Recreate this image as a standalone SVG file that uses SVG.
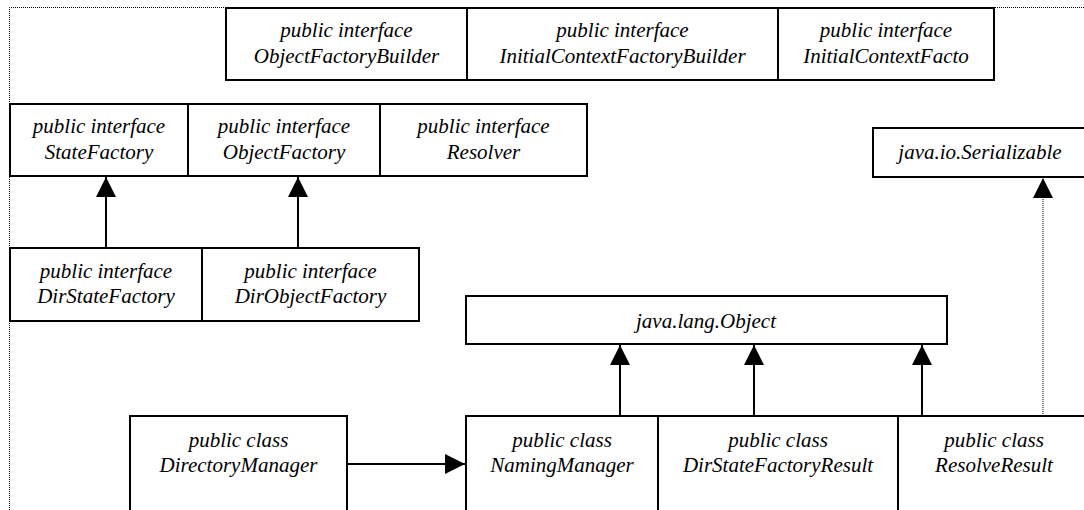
<svg xmlns="http://www.w3.org/2000/svg" width="1084" height="510" viewBox="0 0 1084 510">
  <style>
    .box { fill: #fff; stroke: #000; stroke-width: 2; }
    .lbl { font-family: "Liberation Serif", "Times New Roman", serif; font-style: italic; font-size: 21px; fill: #000; text-anchor: middle; }
    .edge { fill: none; stroke: #000; stroke-width: 2; }
    .dots { fill: none; stroke: #000; stroke-width: 1; stroke-dasharray: 1 1; }
  </style>
  <defs>
    <marker id="head" markerUnits="userSpaceOnUse" markerWidth="20" markerHeight="20" viewBox="0 0 20 20" refX="20" refY="10" orient="auto">
      <path d="M0,0 L20,10 L0,20 Z" fill="#000"/>
    </marker>
  </defs>
  <rect width="1084" height="510" fill="#fff"/>

  <!-- package frame (dotted) -->
  <g id="frame">
    <path class="dots" d="M9.5,510 L9.5,7.5 L1084,7.5"/>
  </g>

  <!-- top row -->
  <g id="ObjectFactoryBuilder">
    <rect class="box" x="226" y="8" width="241" height="72"/>
    <text class="lbl" x="346.5" y="37">public interface</text>
    <text class="lbl" x="346.5" y="63">ObjectFactoryBuilder</text>
  </g>
  <g id="InitialContextFactoryBuilder">
    <rect class="box" x="467" y="8" width="311" height="72"/>
    <text class="lbl" x="622.5" y="37">public interface</text>
    <text class="lbl" x="622.5" y="63">InitialContextFactoryBuilder</text>
  </g>
  <g id="InitialContextFactory">
    <rect class="box" x="778" y="8" width="216" height="72"/>
    <text class="lbl" x="886" y="37">public interface</text>
    <text class="lbl" x="886" y="63">InitialContextFacto</text>
  </g>

  <!-- second row -->
  <g id="StateFactory">
    <rect class="box" x="10" y="104" width="178" height="72"/>
    <text class="lbl" x="99" y="133">public interface</text>
    <text class="lbl" x="99" y="159">StateFactory</text>
  </g>
  <g id="ObjectFactory">
    <rect class="box" x="188" y="104" width="192" height="72"/>
    <text class="lbl" x="284" y="133">public interface</text>
    <text class="lbl" x="284" y="159">ObjectFactory</text>
  </g>
  <g id="Resolver">
    <rect class="box" x="380" y="104" width="207" height="72"/>
    <text class="lbl" x="483.5" y="133">public interface</text>
    <text class="lbl" x="483.5" y="159">Resolver</text>
  </g>
  <g id="Serializable">
    <rect class="box" x="873" y="128" width="216" height="49"/>
    <text class="lbl" x="980" y="159">java.io.Serializable</text>
  </g>

  <!-- third row -->
  <g id="DirStateFactory">
    <rect class="box" x="10" y="248" width="192" height="73"/>
    <text class="lbl" x="106" y="278">public interface</text>
    <text class="lbl" x="106" y="303">DirStateFactory</text>
  </g>
  <g id="DirObjectFactory">
    <rect class="box" x="202" y="248" width="217" height="73"/>
    <text class="lbl" x="310.5" y="278">public interface</text>
    <text class="lbl" x="310.5" y="303">DirObjectFactory</text>
  </g>
  <g id="Object">
    <rect class="box" x="466" y="296" width="481" height="48"/>
    <text class="lbl" x="706" y="328">java.lang.Object</text>
  </g>

  <!-- bottom row -->
  <g id="DirectoryManager">
    <rect class="box" x="130" y="416" width="217" height="110"/>
    <text class="lbl" x="238.5" y="447">public class</text>
    <text class="lbl" x="238.5" y="472">DirectoryManager</text>
  </g>
  <g id="NamingManager">
    <rect class="box" x="466" y="416" width="192" height="110"/>
    <text class="lbl" x="562" y="447">public class</text>
    <text class="lbl" x="562" y="472">NamingManager</text>
  </g>
  <g id="DirStateFactoryResult">
    <rect class="box" x="658" y="416" width="240" height="110"/>
    <text class="lbl" x="778" y="447">public class</text>
    <text class="lbl" x="778" y="472">DirStateFactoryResult</text>
  </g>
  <g id="ResolveResult">
    <rect class="box" x="898" y="416" width="192" height="110"/>
    <text class="lbl" x="994" y="447">public class</text>
    <text class="lbl" x="994" y="472">ResolveResult</text>
  </g>

  <!-- connectors -->
  <g id="connectors">
    <line class="edge" x1="106" y1="248" x2="106" y2="177" marker-end="url(#head)"/>
    <line class="edge" x1="298" y1="248" x2="298" y2="177" marker-end="url(#head)"/>
    <line class="edge" x1="620" y1="416" x2="620" y2="345" marker-end="url(#head)"/>
    <line class="edge" x1="754" y1="416" x2="754" y2="345" marker-end="url(#head)"/>
    <line class="edge" x1="922" y1="416" x2="922" y2="345" marker-end="url(#head)"/>
    <line class="dots" x1="1043" y1="416" x2="1043" y2="178" marker-end="url(#head)"/>
    <line class="edge" x1="347" y1="464" x2="465" y2="464" marker-end="url(#head)"/>
  </g>
</svg>
